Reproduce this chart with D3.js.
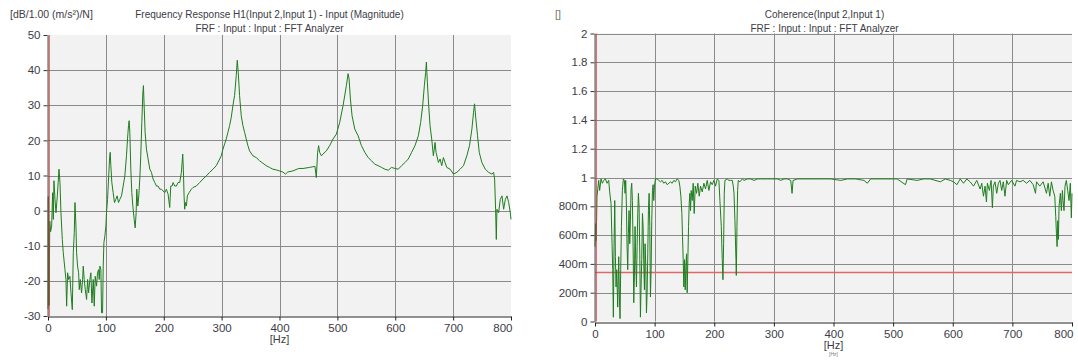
<!DOCTYPE html>
<html>
<head>
<meta charset="utf-8">
<script src="https://cdn.jsdelivr.net/npm/d3@7"></script>
<style>
  html, body { margin: 0; padding: 0; background: #fff; }
  svg text { font-family: "Liberation Sans", Arial, sans-serif; }
</style>
</head>
<body>
<div id="chart"></div>
<script>
// frequency axis ticks shared by both plots
const freqTicks = [0, 100, 200, 300, 400, 500, 600, 700, 800];
const dbTicks = [-30, -20, -10, 0, 10, 20, 30, 40, 50];
const cohTicks = [0, 0.2, 0.4, 0.6, 0.8, 1, 1.2, 1.4, 1.6, 1.8, 2];

// FRF magnitude
const frfHz = [0, 0.5, 1, 1.5, 2, 3, 4.5, 6.3, 8.0, 9.2, 10.3, 12.1, 13.8, 16.1, 19.0, 20.7, 22.4, 24.7, 26.4, 29.3, 31.0,
  32.2, 33.9, 35.6, 37.9, 39.7, 42.0, 43.7, 45.4, 46.6, 48.3, 49.4, 51.1, 52.9, 54.0, 55.7, 58.0, 59.8, 60.9, 62.6,
  64.4, 66.7, 68.4, 70.1, 72.4, 74.1, 75.9, 78.2, 79.9, 81.6, 83.9, 85.6, 87.4, 88.5, 89.7, 91.4, 92.5, 94.3, 95.4,
  96.6, 98.3, 100.0, 101.1, 102.9, 104.6, 106.3, 107.5, 108.6, 110.3, 112.6, 114.9, 117.2, 119.5, 121.8, 124.1, 127.0,
  129.9, 132.8, 135.6, 137.4, 139.1, 140.2, 141.4, 143.1, 144.8, 146.6, 148.9, 150.6, 152.3, 153.4, 155.2, 156.9,
  158.6, 160.3, 162.1, 163.8, 164.9, 166.1, 167.8, 170.1, 173.0, 175.9, 178.7, 181.6, 184.5, 187.4, 190.2, 193.1,
  196.0, 198.9, 201.7, 204.6, 207.5, 210.3, 212.1, 214.4, 216.1, 219.0, 221.8, 224.7, 227.6, 230.5, 232.8, 233.9,
  235.1, 236.2, 237.4, 239.1, 240.8, 243.7, 247.7, 250.6, 256.3, 262.1, 267.8, 273.6, 279.3, 285.1, 290.8, 296.6,
  299.4, 302.3, 305.2, 308.0, 310.9, 313.8, 316.7, 319.5, 322.4, 325.3, 327.0, 328.7, 331.0, 333.9, 336.8, 339.7,
  342.5, 345.4, 348.3, 354.0, 359.8, 365.5, 371.3, 377.0, 382.8, 388.5, 394.3, 400.0, 405.7, 410.3, 414.4, 423.0,
  433.3, 440.5, 452.0, 461.3, 463.6, 465.9, 467.6, 469.4, 472.3, 475.1, 480.9, 486.7, 492.5, 498.3, 504.0, 509.8,
  515.6, 518.5, 520.2, 522.5, 525.4, 530.1, 535.8, 541.6, 547.4, 553.2, 559.0, 564.7, 570.5, 576.3, 582.1, 587.9,
  593.6, 599.4, 605.2, 611.0, 616.8, 622.5, 628.3, 634.1, 639.9, 643.9, 647.4, 650.3, 652.6, 653.8, 655.5, 657.8,
  660.1, 663.0, 665.9, 668.8, 670.5, 674.6, 677.5, 680.3, 683.2, 686.1, 689.0, 694.8, 700.6, 706.4, 712.1, 717.9,
  723.7, 728.3, 732.4, 735.3, 737.0, 739.3, 742.2, 745.1, 749.7, 755.5, 761.3, 767.1, 769.9, 771.7, 773.4, 774.6,
  775.7, 778.6, 781.5, 784.4, 787.3, 790.2, 793.1, 796.0, 798.8, 800];
const frfDb = [-28, 4, -27, -5, -27, -3, -6, -4.4, 5.1, -2.5, 8.5, 3.2, -0.6, 4.2, 11.8, 8.0, -0.6, -8.2, -12.0, -16.8, -19.6,
  -27.2, -17.7, -19.6, -18.7, -23.4, -28.2, -12.0, -6.3, 2.3, -4.4, -12.0, -15.8, -17.7, -22.5, -19.6, -23.4, -19.6, -15.8, -19.6,
  -22.5, -25.3, -19.6, -23.4, -19.6, -17.7, -26.3, -19.6, -27.2, -18.7, -21.5, -17.7, -16.8, -19.6, -15.8, -16.8, -29.1, -29.1, -15.8,
  -9.1, -7.2, -4.4, -0.6, 3.2, 9.0, 14.7, 16.6, 12.8, 8.0, 5.1, 2.3, 3.2, 4.2, 2.3, 3.2, 4.2,
  7.0, 9.9, 15.6, 20.4, 24.2, 25.6, 22.3, 11.8, 5.1, 1.3, -2.5, -4.9, -0.6, 6.1, 1.3, 4.2,
  9.0, 15.6, 25.1, 33.2, 35.6, 29.9, 22.3, 17.5, 14.7, 11.8, 10.9, 9.0, 8.0, 7.0, 7.0, 6.1,
  6.1, 5.6, 5.1, 6.1, 4.7, 0.9, 7.0, 7.0, 8.0, 7.0, 7.0, 8.0, 8.0, 10.9, 16.1, 11.8,
  4.2, 0.4, 2.3, 1.3, 4.2, 5.1, 6.1, 6.6, 7.0, 8.0, 9.0, 9.9, 10.9, 11.8, 12.8, 14.7,
  15.6, 17.5, 19.0, 20.4, 22.3, 24.2, 26.6, 29.9, 32.8, 38.5, 42.8, 39.4, 32.8, 27.0, 24.2, 22.3,
  20.4, 18.5, 17.0, 15.6, 15.1, 14.2, 13.5, 12.8, 12.3, 11.8, 11.6, 11.3, 11.0, 10.4, 11.0, 11.3,
  12.0, 12.0, 12.3, 12.6, 9.4, 16.6, 18.5, 16.6, 15.6, 16.1, 17.0, 18.5, 20.4, 21.8, 25.1, 29.9,
  35.6, 39.0, 37.5, 31.8, 27.0, 23.2, 21.3, 18.5, 16.6, 15.1, 14.2, 13.2, 12.8, 12.3, 11.8, 11.5,
  12.3, 12.0, 11.8, 12.8, 13.7, 14.7, 16.6, 18.5, 21.3, 25.1, 29.9, 35.6, 39.4, 42.3, 36.6, 29.9,
  24.2, 20.4, 15.6, 19.4, 16.6, 13.7, 14.7, 12.8, 15.1, 13.7, 12.3, 11.8, 10.4, 10.9, 11.8, 12.8,
  15.6, 18.5, 23.2, 28.0, 30.4, 26.1, 21.3, 16.6, 13.7, 11.8, 10.9, 10.4, 10.9, 9.0, 0.4, -8.2,
  0.4, -0.6, 3.2, 4.2, 0.4, 3.2, 4.2, 2.3, -0.6, -2.5];

// Coherence
const cohHz = [0, 1, 2, 3.4, 6.2, 7.8, 10.1, 12.3, 14.6, 17.4, 20.2, 23.0, 24.6, 26.9, 28.6, 29.7, 30.8, 31.9, 33.1, 34.2,
  35.3, 36.4, 38.1, 39.8, 40.9, 42.0, 43.1, 44.3, 45.9, 47.6, 49.3, 50.4, 51.5, 52.7, 53.8, 54.9, 56.0, 57.1, 58.3,
  59.4, 60.5, 61.6, 62.7, 63.9, 65.0, 66.1, 67.2, 68.3, 69.5, 70.6, 71.7, 72.8, 73.9, 75.1, 76.2, 77.3, 78.4, 79.6,
  80.7, 81.8, 82.9, 84.0, 85.2, 86.3, 87.4, 88.5, 89.6, 90.8, 91.9, 93.0, 94.1, 95.2, 96.4, 97.5, 98.6, 99.7, 101.4,
  104.2, 107.0, 109.8, 112.6, 115.4, 118.2, 121.0, 123.8, 126.6, 129.4, 132.2, 135.0, 137.8, 140.6, 142.3, 144.0,
  145.7, 146.8, 147.9, 149.0, 150.1, 151.3, 152.4, 153.5, 154.6, 155.7, 156.9, 158.0, 159.1, 160.2, 161.3, 163.0,
  164.7, 166.4, 168.1, 170.3, 172.5, 174.8, 177.0, 179.8, 182.6, 185.4, 188.2, 191.0, 193.8, 196.6, 199.4, 202.2,
  205.0, 207.8, 209.5, 211.8, 213.4, 214.6, 215.7, 216.8, 217.9, 221.8, 224.6, 227.5, 230.3, 231.9, 233.1, 234.7,
  236.4, 237.0, 238.1, 239.2, 240.3, 243.1, 247.1, 249.9, 255.5, 261.1, 266.7, 272.3, 277.9, 283.5, 289.1, 294.7,
  300.3, 305.9, 311.5, 317.1, 322.7, 328.3, 330.5, 332.2, 339.5, 350.7, 361.9, 373.1, 384.3, 395.5, 412.2, 423.4,
  437.3, 451.2, 456.7, 462.3, 467.9, 481.8, 495.7, 506.8, 520.7, 523.5, 540.2, 551.3, 562.4, 579.1, 587.5, 595.8,
  601.4, 607.0, 609.7, 612.5, 618.1, 623.6, 629.2, 634.8, 640.3, 645.9, 648.7, 651.5, 654.2, 656.5, 658.1, 661.5,
  664.3, 666.5, 668.1, 670.9, 673.7, 676.5, 679.3, 682.1, 684.8, 687.6, 690.4, 693.2, 698.7, 704.3, 707.1, 712.7,
  718.2, 723.8, 729.3, 734.9, 738.8, 740.5, 746.0, 751.6, 757.2, 760.0, 762.7, 765.5, 768.3, 771.1, 772.7, 773.9,
  775.0, 776.1, 777.2, 778.3, 780.5, 782.2, 783.9, 785.0, 786.6, 788.3, 790.5, 792.8, 795.0, 797.2, 798.9, 800];
const cohVal = [0.52, 0.68, 0.56, 0.87, 0.98, 0.91, 0.99, 0.96, 0.98, 0.99, 0.96, 0.98, 0.90, 0.82, 0.54, 0.36, 0.03, 0.52, 0.84, 0.45,
  0.24, 0.36, 0.10, 0.45, 0.17, 0.02, 0.36, 0.66, 0.91, 0.99, 0.98, 0.89, 0.98, 0.80, 0.52, 0.36, 0.61, 0.77, 0.54,
  0.70, 0.92, 0.96, 0.84, 0.52, 0.13, 0.31, 0.66, 0.43, 0.24, 0.52, 0.75, 0.89, 0.80, 0.47, 0.03, 0.24, 0.43, 0.75,
  0.66, 0.40, 0.22, 0.54, 0.38, 0.06, 0.20, 0.47, 0.77, 0.89, 0.66, 0.17, 0.36, 0.70, 0.91, 0.95, 0.84, 0.94, 0.99,
  0.99, 0.98, 0.97, 0.98, 0.96, 0.97, 0.95, 0.96, 0.97, 0.96, 0.98, 0.97, 0.99, 0.98, 0.94, 0.87,
  0.75, 0.59, 0.43, 0.24, 0.43, 0.22, 0.38, 0.47, 0.20, 0.43, 0.66, 0.82, 0.89, 0.77, 0.91, 0.84,
  0.96, 0.75, 0.94, 0.89, 0.96, 0.87, 0.94, 0.90, 0.96, 0.92, 0.98, 0.91, 0.97, 0.95, 0.98, 0.94,
  0.99, 0.98, 0.84, 0.66, 0.43, 0.29, 0.54, 0.89, 0.98, 0.99, 0.98, 0.98, 0.98, 0.94, 0.89, 0.70,
  0.43, 0.32, 0.66, 0.91, 0.98, 0.97, 0.99, 0.98, 0.99, 0.99, 0.98, 0.99, 0.99, 0.99, 0.99, 0.99,
  0.99, 0.99, 0.98, 0.99, 0.99, 0.98, 0.89, 0.98, 0.99, 0.99, 0.99, 0.99, 0.99, 0.99, 0.98, 0.99,
  0.99, 0.98, 0.96, 0.99, 0.99, 0.99, 0.99, 0.99, 0.95, 0.99, 0.98, 0.99, 0.99, 0.97, 0.99, 0.98,
  0.97, 0.95, 0.97, 0.99, 0.96, 0.99, 0.97, 0.94, 0.98, 0.92, 0.96, 0.87, 0.94, 0.83, 0.96, 0.91,
  0.98, 0.79, 0.94, 0.97, 0.89, 0.96, 0.98, 0.91, 0.97, 0.87, 0.98, 0.95, 0.98, 0.94, 0.98, 0.97,
  0.98, 0.96, 0.98, 0.95, 0.89, 0.97, 0.94, 0.97, 0.89, 0.96, 0.87, 0.97, 0.91, 0.87, 0.73, 0.61,
  0.52, 0.70, 0.57, 0.80, 0.89, 0.77, 0.91, 0.84, 0.77, 0.94, 0.98, 0.91, 0.84, 0.96, 0.72, 0.89];

const cohThreshold = 0.34;
const cursorHz = 2;

const width = 1078, height = 363;
const svg = d3.select("#chart").append("svg")
  .attr("width", width).attr("height", height);

const lineColor = "#1e7d1e";
const gridColor = "#8a8a8a";
const textColor = "#3c3c46";

function drawPanel(p) {
  const x = d3.scaleLinear().domain([0, 800]).range([p.left, p.right]);
  const y = d3.scaleLinear().domain(p.yDomain).range([p.bottom, p.top]);
  const g = svg.append("g");

  g.append("rect")
    .attr("x", p.left).attr("y", p.top)
    .attr("width", p.right - p.left).attr("height", p.bottom - p.top)
    .attr("fill", "#f2f2f2");

  // grid
  g.selectAll(".vg").data(freqTicks.filter(d => d > 0 && d < 800)).enter()
    .append("line")
    .attr("x1", d => Math.round(x(d)) + 0.5).attr("x2", d => Math.round(x(d)) + 0.5)
    .attr("y1", p.top).attr("y2", p.bottom)
    .attr("stroke", gridColor).attr("stroke-width", 1);
  g.selectAll(".hg").data(p.yTicks.filter(p.gridFilter)).enter()
    .append("line")
    .attr("x1", p.left).attr("x2", p.right)
    .attr("y1", d => Math.round(y(d)) + 0.5).attr("y2", d => Math.round(y(d)) + 0.5)
    .attr("stroke", gridColor).attr("stroke-width", 1);

  // threshold line (coherence only)
  if (p.threshold !== undefined) {
    g.append("line")
      .attr("x1", p.left).attr("x2", p.right)
      .attr("y1", y(p.threshold)).attr("y2", y(p.threshold))
      .attr("stroke", "#e06868").attr("stroke-width", 1.5);
  }

  // data
  const line = d3.line().x(d => x(d[0])).y(d => y(d[1]));
  g.append("path")
    .datum(p.xs.map((f, i) => [f, p.ys[i]]))
    .attr("d", line)
    .attr("fill", "none")
    .attr("stroke", lineColor)
    .attr("stroke-width", 1)
    .attr("stroke-linejoin", "round");

  // cursor
  g.append("line")
    .attr("x1", x(cursorHz)).attr("x2", x(cursorHz))
    .attr("y1", p.top).attr("y2", p.bottom)
    .attr("stroke", "#d23a3a").attr("stroke-width", 1);

  // axes
  const xAxis = g.append("g")
    .attr("transform", `translate(0,${Math.round(p.bottom) + 0.5})`)
    .call(d3.axisBottom(x).tickValues(freqTicks).tickSize(4).tickPadding(3).tickSizeOuter(0));
  xAxis.select(".domain").attr("stroke", "#222");
  xAxis.selectAll(".tick line").attr("stroke", "#222");
  xAxis.selectAll("text").attr("fill", textColor).attr("font-size", "11.5px")
    .attr("font-family", "'Liberation Sans', Arial, sans-serif");
  // last label sits inside, ending at its tick
  xAxis.selectAll(".tick").filter(d => d === 800).select("text")
    .attr("text-anchor", "end").attr("dx", "1");

  const yAxis = g.append("g")
    .attr("transform", `translate(${Math.round(p.left) - 0.5},0)`)
    .call(d3.axisLeft(y).tickValues(p.yTicks).tickFormat(p.fmt).tickSize(4).tickPadding(3).tickSizeOuter(0));
  yAxis.select(".domain").attr("stroke", "#555");
  yAxis.selectAll(".tick line").attr("stroke", "#333");
  yAxis.selectAll("text").attr("fill", textColor).attr("font-size", "11.5px")
    .attr("font-family", "'Liberation Sans', Arial, sans-serif");

  // titles
  const cx = (p.left + p.right) / 2 + p.titleShift;
  g.append("text").attr("x", cx).attr("y", 18).attr("text-anchor", "middle")
    .attr("font-size", "10px").attr("fill", textColor).text(p.title);
  g.append("text").attr("x", cx).attr("y", 32).attr("text-anchor", "middle")
    .attr("font-size", "10px").attr("fill", textColor).text("FRF : Input : Input : FFT Analyzer");
  g.append("text").attr("x", p.unitX).attr("y", 18)
    .attr("font-size", "10.5px").attr("fill", p.unitColor).text(p.unit);
  g.append("text").attr("x", x(400)).attr("y", p.hzY).attr("text-anchor", "middle")
    .attr("font-size", "11px").attr("fill", textColor).text("[Hz]");
  if (p.hzSub) {
    g.append("text").attr("x", x(400)).attr("y", p.hzY + 7).attr("text-anchor", "middle")
      .attr("font-size", "5px").attr("fill", "#777").text(p.hzSub);
  }
}

drawPanel({
  left: 48, right: 511, top: 35, bottom: 316,
  yDomain: [-30, 50], yTicks: dbTicks,
  gridFilter: d => d > -30 && d < 50,
  fmt: d => d,
  xs: frfHz, ys: frfDb,
  title: "Frequency Response H1(Input 2,Input 1) - Input (Magnitude)",
  titleShift: -10,
  unit: "[dB/1.00 (m/s²)/N]", unitX: 10, unitColor: textColor,
  hzY: 343
});

drawPanel({
  left: 595, right: 1072, top: 33.5, bottom: 321.5,
  yDomain: [0, 2], yTicks: cohTicks,
  gridFilter: d => d > 0,
  fmt: d => d === 0 ? "0" : (d < 1 ? Math.round(d * 1000) + "m" : String(d)),
  xs: cohHz, ys: cohVal,
  threshold: cohThreshold,
  title: "Coherence(Input 2,Input 1)",
  titleShift: -9,
  unit: "[]", unitX: 555, unitColor: "#6a7a6a",
  hzY: 349, hzSub: "[Hz]"
});
</script>
</body>
</html>
